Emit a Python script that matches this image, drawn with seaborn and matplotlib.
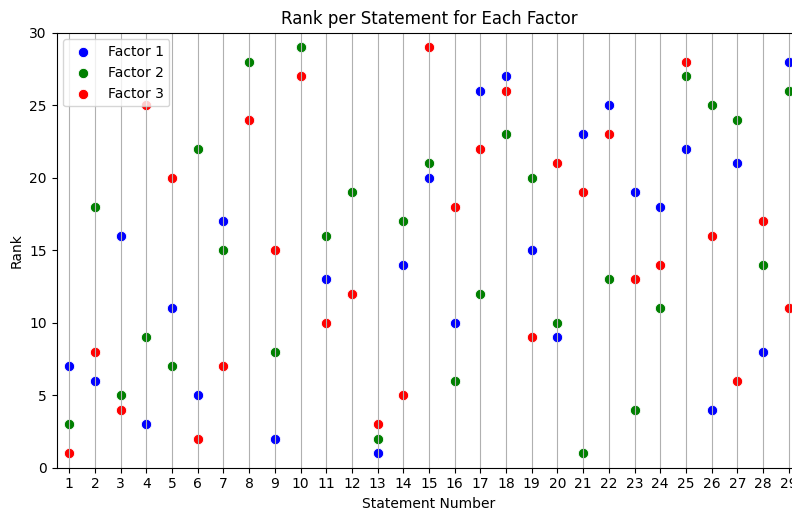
import matplotlib
matplotlib.use("Agg")
import matplotlib.pyplot as plt
import seaborn as sns
import pandas as pd

statements = list(range(1, 30))
factor1 = [7, 6, 16, 3, 11, 5, 17, 24, 2, 29, 13, 12, 1, 14, 20, 10, 26, 27, 15, 9, 23, 25, 19, 18, 22, 4, 21, 8, 28]
factor2 = [3, 18, 5, 9, 7, 22, 15, 28, 8, 29, 16, 19, 2, 17, 21, 6, 12, 23, 20, 10, 1, 13, 4, 11, 27, 25, 24, 14, 26]
factor3 = [1, 8, 4, 25, 20, 2, 7, 24, 15, 27, 10, 12, 3, 5, 29, 18, 22, 26, 9, 21, 19, 23, 13, 14, 28, 16, 6, 17, 11]
series = [("Factor 1", factor1, "blue"), ("Factor 2", factor2, "green"), ("Factor 3", factor3, "red")]

fig = plt.figure(figsize=(7.92, 5.08), dpi=100)
ax = fig.add_axes([56.5 / 792, 1 - 467.7 / 508, (801.5 - 56.5) / 792, (467.7 - 32.5) / 508])

for name, vals, col in series:
    df = pd.DataFrame({"Statement": statements, "Rank": vals})
    sns.scatterplot(data=df, x="Statement", y="Rank", color=col, label=name, s=55, ax=ax)

ax.set_xticks(statements)
ax.set_xlim(0.5, 29.5)
ax.set_ylim(0, 30)
ax.grid(axis="x")
ax.set_title("Rank per Statement for Each Factor")
ax.set_xlabel("Statement Number")
ax.set_ylabel("Rank")
ax.legend(loc="upper left")

fig.savefig("out.png", dpi=100)
